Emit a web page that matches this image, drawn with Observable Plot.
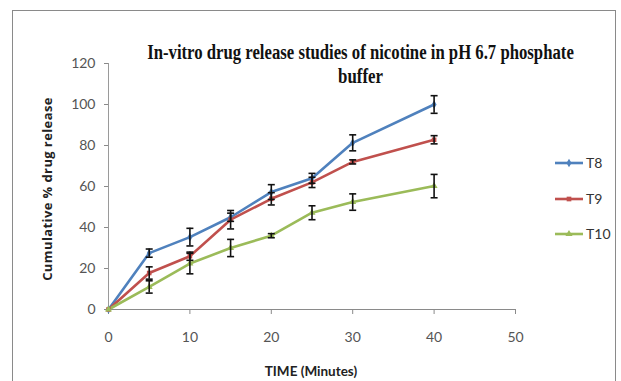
<!DOCTYPE html>
<html>
<head>
<meta charset="utf-8">
<script src="https://cdn.jsdelivr.net/npm/d3@7"></script>
<script src="https://cdn.jsdelivr.net/npm/@observablehq/plot@0.6"></script>
<style>
  html, body { margin: 0; padding: 0; background: #fff; }
  #wrap { position: relative; width: 621px; height: 381px; overflow: hidden; background: #fff; }
  #frame { position: absolute; left: 12px; top: 10px; width: 604px; height: 400px; border: 1.5px solid #8a8a8a; box-sizing: border-box; }
  #chart { position: absolute; left: 0; top: 0; }
  #overlay { position: absolute; left: 0; top: 0; pointer-events: none; }
</style>
</head>
<body>
<div id="wrap">
  <div id="frame"></div>
  <div id="chart"></div>
  <svg id="overlay" width="621" height="381"></svg>
</div>
<script>
const times = [0, 5, 10, 15, 20, 25, 30, 40];
const seriesNames = ["T8", "T9", "T10"];
const t8 = [0, 27.5, 35.3, 45, 57.3, 64, 81.3, 100];
const t8err = [0, 2, 4.3, 2, 3.6, 2.4, 3.9, 4.3];
const t9 = [0, 17.8, 26, 43.8, 54, 62, 72, 82.8];
const t9err = [0, 3, 2, 4.5, 3, 2.5, 1, 2];
const t10 = [0, 11, 22.4, 30, 36, 47.2, 52.4, 60.2];
const t10err = [0, 3, 5, 4.2, 1, 3.4, 4, 5.7];
const colors = ["#4F81BD", "#C0504D", "#9BBB59"];
const symbols = ["diamond", "square", "triangle"];
const xTicks = [0, 10, 20, 30, 40, 50];
const yTicks = [0, 20, 40, 60, 80, 100, 120];
const titleLine1 = "In-vitro drug release studies of nicotine in pH 6.7 phosphate";
const titleLine2 = "buffer";
const xLabel = "TIME (Minutes)";
const yLabel = "Cumulative % drug release";

const vals = [t8, t9, t10];
const errs = [t8err, t9err, t10err];
const data = [];
seriesNames.forEach((s, i) => {
  times.forEach((t, j) => {
    data.push({series: s, time: t, value: vals[i][j], err: errs[i][j]});
  });
});
const errData = data.filter(d => d.err > 0);

const capSymbol = {
  draw(ctx, size) {
    const r = Math.sqrt(size / Math.PI);
    ctx.moveTo(-r, 0);
    ctx.lineTo(r, 0);
  }
};

const chart = Plot.plot({
  width: 621,
  height: 381,
  marginLeft: 108,
  marginRight: 106,
  marginTop: 63,
  marginBottom: 72,
  style: {background: "transparent", fontFamily: "Lato, sans-serif"},
  x: {domain: [0, 50]},
  y: {domain: [0, 120]},
  color: {domain: seriesNames, range: colors},
  symbol: {domain: seriesNames, range: symbols},
  marks: [
    Plot.axisY({ticks: yTicks, tickSize: 4, tickPadding: 9, stroke: "#8a8a8a", color: "#555", fontSize: 14, label: null}),
    Plot.axisX({ticks: xTicks, tickSize: 5, tickPadding: 18, stroke: "#8a8a8a", color: "#555", fontSize: 14, label: null}),
    Plot.ruleX([0], {stroke: "#9a9a9a", strokeWidth: 1}),
    Plot.ruleY([0], {stroke: "#8a8a8a", strokeWidth: 1}),
    Plot.line(data, {x: "time", y: "value", z: "series", stroke: "series", strokeWidth: 2.6}),
    Plot.dot(data, {x: "time", y: "value", fill: "series", symbol: "series", r: 2.6, stroke: null}),
    Plot.ruleX(errData, {x: "time", y1: d => d.value - d.err, y2: d => d.value + d.err, stroke: "#111", strokeWidth: 1.6}),
    Plot.dot(errData, {x: "time", y: d => d.value - d.err, symbol: capSymbol, r: 3.5, stroke: "#111", strokeWidth: 1.6, fill: "none"}),
    Plot.dot(errData, {x: "time", y: d => d.value + d.err, symbol: capSymbol, r: 3.5, stroke: "#111", strokeWidth: 1.6, fill: "none"})
  ]
});
document.getElementById("chart").appendChild(chart);

// Title, axis labels and legend
const ov = d3.select("#overlay");
function squeezedTitle(text, cx, y, targetWidth) {
  const g = ov.append("g");
  const t = g.append("text").attr("text-anchor", "middle")
    .attr("font-family", "'Liberation Serif', 'Times New Roman', serif")
    .attr("font-weight", "bold").attr("font-size", 20).attr("fill", "#111")
    .text(text);
  const w = t.node().getComputedTextLength() || targetWidth;
  g.attr("transform", `translate(${cx},${y}) scale(${targetWidth / w},1)`);
}
squeezedTitle(titleLine1, 360.5, 59, 427);
squeezedTitle(titleLine2, 360.5, 83, 45);

ov.append("text").attr("x", 311).attr("y", 376).attr("text-anchor", "middle")
  .attr("font-family", "Lato, sans-serif").attr("font-weight", "bold").attr("font-size", 13.5).attr("fill", "#222")
  .text(xLabel);
ov.append("text").attr("transform", "translate(52,189) rotate(-90)").attr("text-anchor", "middle")
  .attr("font-family", "'Open Sans', sans-serif").attr("font-weight", "bold").attr("font-size", 13).attr("letter-spacing", 0.4).attr("fill", "#222")
  .text(yLabel);

const legendY = [163, 199, 234];
const d3Symbols = {diamond: d3.symbolDiamond, square: d3.symbolSquare, triangle: d3.symbolTriangle};
seriesNames.forEach((s, i) => {
  const g = ov.append("g");
  g.append("line").attr("x1", 555).attr("x2", 583).attr("y1", legendY[i]).attr("y2", legendY[i])
    .attr("stroke", colors[i]).attr("stroke-width", 2.6);
  g.append("path").attr("transform", `translate(569,${legendY[i]})`)
    .attr("d", d3.symbol(d3Symbols[symbols[i]], 22)())
    .attr("fill", colors[i]);
  g.append("text").attr("x", 586).attr("y", legendY[i] + 5)
    .attr("font-family", "Lato, sans-serif").attr("font-size", 14).attr("fill", "#333")
    .text(s);
});
</script>
</body>
</html>
